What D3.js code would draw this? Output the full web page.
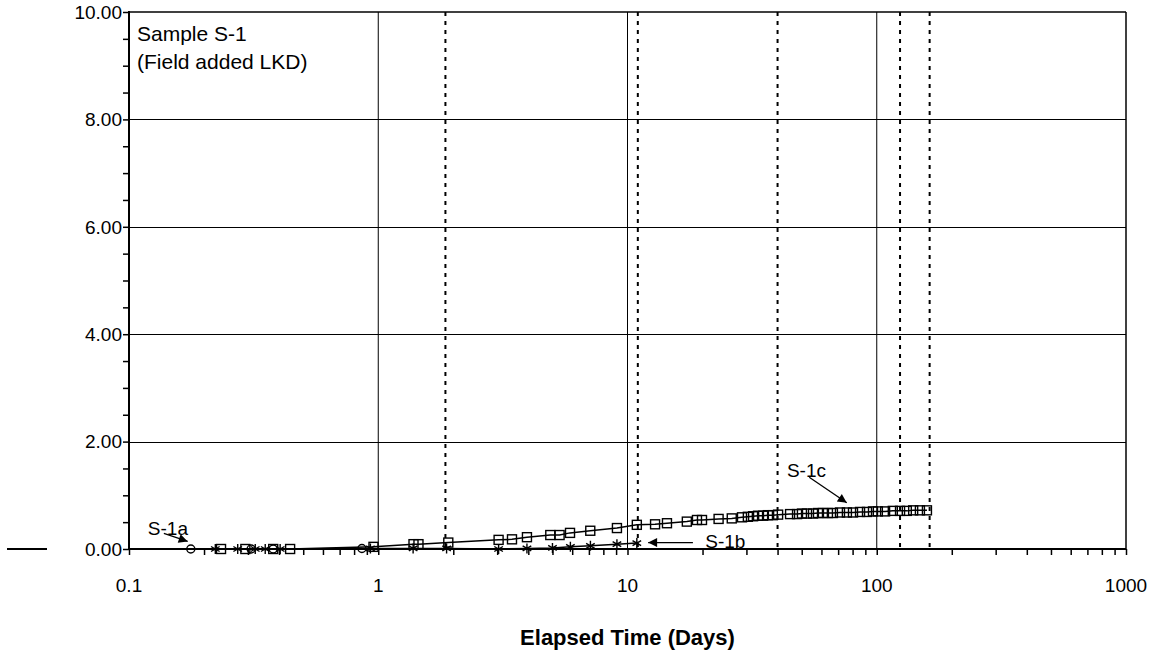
<!DOCTYPE html>
<html>
<head>
<meta charset="utf-8">
<script src="https://cdn.jsdelivr.net/npm/d3@7"></script>
<style>
  html, body { margin: 0; padding: 0; background: #fff; }
  svg { display: block; font-family: Arial, "Liberation Sans", Helvetica, sans-serif; }
</style>
</head>
<body>
<svg id="chart" width="1162" height="658"></svg>
<script>
// Elapsed time (days) and measured values for each sample run
const s1aDays = [0.177, 0.309, 0.379, 0.86];
const s1aVals = [0, 0, 0, 0.01];

const s1bDays = [0.222, 0.273, 0.321, 0.352, 0.404, 0.93, 1.38, 1.88, 3.04, 3.95, 5.0, 5.9, 7.1, 9.07, 10.9];
const s1bVals = [0, 0, 0, 0, 0, 0.01, 0.01, 0.01, 0.0, 0.01, 0.02, 0.04, 0.06, 0.09, 0.11];

const s1cDays = [0.234, 0.293, 0.379, 0.443, 0.957, 1.385, 1.45, 1.91, 3.04, 3.44, 3.95, 4.9, 5.34, 5.88,
  7.09, 9.07, 10.9, 12.9, 14.4, 17.3, 19.0, 19.9, 23.2, 26.2, 28.8, 30.4, 31.9, 33.4, 35.0, 36.6, 38.3,
  40.2, 44.9, 47.9, 50.1, 52.5, 55.5, 58.1, 60.8, 63.7, 66.7, 71.2, 75.9, 80.3, 85.7, 91.4, 96.6, 101,
  108, 116, 124, 132, 140, 149, 159];
const s1cVals = [0, 0, 0, 0, 0.04, 0.09, 0.09, 0.12, 0.17, 0.18, 0.22, 0.26, 0.26, 0.30,
  0.34, 0.39, 0.45, 0.46, 0.48, 0.51, 0.54, 0.54, 0.56, 0.57, 0.59, 0.60, 0.61, 0.62, 0.62, 0.63, 0.63,
  0.64, 0.65, 0.65, 0.66, 0.66, 0.66, 0.67, 0.67, 0.67, 0.67, 0.68, 0.68, 0.68, 0.69, 0.69, 0.70, 0.70,
  0.70, 0.71, 0.71, 0.71, 0.72, 0.72, 0.72];

// Event markers (days) drawn as dashed verticals
const eventDays = [1.86, 11.0, 40, 124, 163];

// Axis ticks
const xMajorTicks = [0.1, 1, 10, 100, 1000];
const xTickLabels = ["0.1", "1", "10", "100", "1000"];
const yMajorTicks = [0, 2, 4, 6, 8, 10];
const yTickLabels = ["0.00", "2.00", "4.00", "6.00", "8.00", "10.00"];

// Callout labels: text anchor and arrow tail/tip, in data units
const callouts = [
  { label: "S-1a", text: [0.119, 0.26], from: [0.138, 0.29], to: [0.172, 0.14] },
  { label: "S-1b", text: [20.5, 0.02], from: [18.3, 0.12], to: [12.1, 0.12] },
  { label: "S-1c", text: [43.6, 1.34], from: [53.6, 1.335], to: [75.8, 0.86] }
];

const svg = d3.select("#chart");
const plotLeft = 129, plotRight = 1126, plotTop = 12, plotBottom = 549;

const x = d3.scaleLog().domain([0.1, 1000]).range([plotLeft, plotRight]);
const y = d3.scaleLinear().domain([0, 10]).range([plotBottom, plotTop]);

svg.append("defs").append("marker")
  .attr("id", "arrow")
  .attr("viewBox", "0 0 10 10")
  .attr("refX", 10).attr("refY", 5)
  .attr("markerWidth", 14).attr("markerHeight", 9)
  .attr("markerUnits", "userSpaceOnUse")
  .attr("orient", "auto")
  .append("path").attr("d", "M0,0 L10,5 L0,10 Z").attr("fill", "#000");

// Horizontal gridlines
svg.append("g").selectAll("line")
  .data(yMajorTicks.filter(v => v > 0 && v < 10))
  .join("line")
  .attr("x1", plotLeft).attr("x2", plotRight)
  .attr("y1", d => Math.round(y(d)) + 0.5).attr("y2", d => Math.round(y(d)) + 0.5)
  .attr("stroke", "#000").attr("stroke-width", 1);

// Vertical gridlines at decades
svg.append("g").selectAll("line")
  .data(xMajorTicks.filter(v => v > 0.1 && v < 1000))
  .join("line")
  .attr("x1", d => x(d)).attr("x2", d => x(d))
  .attr("y1", plotTop).attr("y2", plotBottom)
  .attr("stroke", "#000").attr("stroke-width", 1);

// Dashed event lines
svg.append("g").selectAll("line")
  .data(eventDays)
  .join("line")
  .attr("x1", d => x(d)).attr("x2", d => x(d))
  .attr("y1", plotTop).attr("y2", plotBottom)
  .attr("stroke", "#000").attr("stroke-width", 2)
  .attr("stroke-dasharray", "4,5");

// X axis: log ticks pointing down
const xAxis = d3.axisBottom(x)
  .tickValues(x.ticks())
  .tickSize(6)
  .tickFormat("");
const gx = svg.append("g").attr("transform", `translate(0,${plotBottom})`).call(xAxis);
gx.select(".domain").remove();
gx.selectAll(".tick line").attr("stroke", "#000").attr("stroke-width", 1.5);

svg.append("g").selectAll("text")
  .data(xMajorTicks)
  .join("text")
  .attr("x", d => x(d)).attr("y", 592)
  .attr("text-anchor", "middle")
  .attr("font-size", 19)
  .text((d, i) => xTickLabels[i]);

// Y axis: ticks every 0.5 pointing left
const yAxis = d3.axisLeft(y)
  .tickValues(d3.range(0, 10.01, 0.5))
  .tickSize(6)
  .tickFormat("");
const gy = svg.append("g").attr("transform", `translate(${plotLeft},0)`).call(yAxis);
gy.select(".domain").remove();
gy.selectAll(".tick line").attr("stroke", "#000").attr("stroke-width", 1.5);

svg.append("g").selectAll("text")
  .data(yMajorTicks)
  .join("text")
  .attr("x", plotLeft - 7).attr("y", d => y(d))
  .attr("dy", "0.36em")
  .attr("text-anchor", "end")
  .attr("font-size", 19)
  .text((d, i) => yTickLabels[i]);

// Plot frame
svg.append("line").attr("x1", plotLeft).attr("x2", plotRight).attr("y1", plotTop).attr("y2", plotTop)
  .attr("stroke", "#000").attr("stroke-width", 1.5);
svg.append("line").attr("x1", plotRight).attr("x2", plotRight).attr("y1", plotTop).attr("y2", plotBottom)
  .attr("stroke", "#000").attr("stroke-width", 1.5);
svg.append("line").attr("x1", plotLeft).attr("x2", plotLeft).attr("y1", plotTop - 1).attr("y2", plotBottom + 1)
  .attr("stroke", "#000").attr("stroke-width", 2);
svg.append("line").attr("x1", plotLeft).attr("x2", plotRight).attr("y1", plotBottom).attr("y2", plotBottom)
  .attr("stroke", "#000").attr("stroke-width", 2);

// Short baseline stub left of the axis labels
svg.append("line").attr("x1", 7).attr("x2", 47).attr("y1", y(0)).attr("y2", y(0))
  .attr("stroke", "#000").attr("stroke-width", 2);

// Series lines and markers
const line = d3.line().x(d => x(d[0])).y(d => y(d[1]));
const series = [
  { days: s1aDays, vals: s1aVals, shape: "circle" },
  { days: s1bDays, vals: s1bVals, shape: "asterisk" },
  { days: s1cDays, vals: s1cVals, shape: "square" }
];

series.forEach(s => {
  const pts = s.days.map((d, i) => [d, s.vals[i]]);
  svg.append("path").datum(pts)
    .attr("d", line)
    .attr("fill", "none").attr("stroke", "#000").attr("stroke-width", 1.5);
  const g = svg.append("g").attr("fill", "none").attr("stroke", "#000").attr("stroke-width", 1.4);
  if (s.shape === "circle") {
    g.selectAll("circle").data(pts).join("circle")
      .attr("cx", d => x(d[0])).attr("cy", d => y(d[1])).attr("r", 4);
  } else if (s.shape === "square") {
    g.selectAll("rect").data(pts).join("rect")
      .attr("x", d => x(d[0]) - 4.5).attr("y", d => y(d[1]) - 4.5)
      .attr("width", 9).attr("height", 9);
  } else {
    g.selectAll("path").data(pts).join("path")
      .attr("transform", d => `translate(${x(d[0])},${y(d[1])})`)
      .attr("d", "M0,-5V5M-4.3,-2.5L4.3,2.5M-4.3,2.5L4.3,-2.5");
  }
});

// Callouts
callouts.forEach(c => {
  svg.append("line")
    .attr("x1", x(c.from[0])).attr("y1", y(c.from[1]))
    .attr("x2", x(c.to[0])).attr("y2", y(c.to[1]))
    .attr("stroke", "#000").attr("stroke-width", 1.3)
    .attr("marker-end", "url(#arrow)");
  svg.append("text")
    .attr("x", x(c.text[0])).attr("y", y(c.text[1]))
    .attr("font-size", 19)
    .text(c.label);
});

// Sample description
svg.append("text").attr("x", plotLeft + 8).attr("y", plotTop + 29)
  .attr("font-size", 21).text("Sample S-1");
svg.append("text").attr("x", plotLeft + 8).attr("y", plotTop + 57)
  .attr("font-size", 21).text("(Field added LKD)");

// X axis title
svg.append("text").attr("x", (plotLeft + plotRight) / 2).attr("y", 645)
  .attr("text-anchor", "middle")
  .attr("font-size", 22).attr("font-weight", "bold")
  .text("Elapsed Time (Days)");
</script>
</body>
</html>
